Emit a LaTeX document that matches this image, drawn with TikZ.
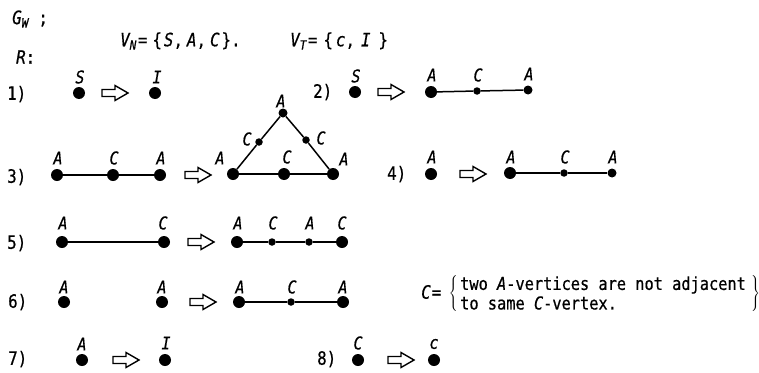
\documentclass[tikz,border=0pt]{standalone}
\usepackage{fontspec}
\setmainfont[FakeStretch=0.86,FakeBold=0.6]{DejaVu Sans Mono}
\usepackage{amsmath}
\newcommand\myleftbr{\ensuremath{\left\{\vrule height 16pt depth 16pt width 0pt\right.}}
\newcommand\myrightbr{\ensuremath{\boldsymbol{\left.\vrule height 16pt depth 16pt width 0pt\right\}}}}
\begin{document}
\begin{tikzpicture}[x=1pt,y=-1pt,
  txt/.style={inner sep=0pt, font=\fontsize{18.4}{20}\selectfont},
  ctxt/.style={inner sep=0pt, font=\fontsize{17.8}{20}\selectfont},
  lab/.style={inner sep=0pt, font=\fontsize{17.5}{20}\selectfont\itshape},
  bigdot/.style={circle, fill, inner sep=0pt, minimum size=12pt},
  meddot/.style={circle, fill, inner sep=0pt, minimum size=9pt},
  smalldot/.style={circle, fill, inner sep=0pt, minimum size=7.5pt},
  edge/.style={line width=1.5pt},
  harrow/.pic={\draw[line width=1.4pt, line join=miter] (0,-3.5)--(13,-3.5)--(13,-7.5)--(26,0)--(13,7.5)--(13,3.5)--(0,3.5)--cycle;}
]
\useasboundingbox (0,0) rectangle (759,372);

% header
\node[txt, anchor=west] (gw) at (12,19) {{\itshape G}\textsubscript{\itshape W} ;};
\node[txt, anchor=west] (vn) at (120,41) {{\itshape V}\textsubscript{\itshape N}\hspace{1pt}=\hspace{5pt}\{\hspace{2pt}{\itshape S},\hspace{4pt}{\itshape A},\hspace{4pt}{\itshape C}\hspace{2pt}\}.};
\node[txt, anchor=west] (vt) at (290,41) {{\itshape V}\textsubscript{\itshape T}\hspace{1pt}=\hspace{6pt}\{\hspace{3pt}{\itshape c},\hspace{6pt}{\itshape I}\hspace{8pt}\}};
\node[txt, anchor=west] (rr) at (16,57) {{\itshape R}:};

% rule 1
\node[txt, anchor=west] (n1) at (7,94) {1)};
\node[bigdot] (r1s) at (79,93) {};
\node[lab] (l1s) at (80,77) {S};
\pic at (102,93) {harrow};
\node[bigdot] (r1i) at (155,93) {};
\node[lab] (l1i) at (157,77) {I};

% rule 2
\node[txt, anchor=west] (n2) at (313,92) {2)};
\node[bigdot] (r2s) at (355,92) {};
\node[lab] (l2s) at (356,76) {S};
\pic at (378,92) {harrow};
\node[bigdot] (r2a1) at (431,92) {};
\node[smalldot] (r2c) at (477,91) {};
\node[meddot] (r2a2) at (528,90) {};
\node[lab] (l2a1) at (432,75) {A};
\node[lab] (l2c) at (478,75) {C};
\node[lab] (l2a2) at (529,74) {A};
\draw[edge] (r2a1) -- (r2c) -- (r2a2);

% rule 3
\node[txt, anchor=west] (n3) at (7,177) {3)};
\node[bigdot] (r3a1) at (57,175) {};
\node[bigdot] (r3c) at (113,175) {};
\node[bigdot] (r3a2) at (160,175) {};
\node[lab] (l3a1) at (58,158) {A};
\node[lab] (l3c) at (114,158) {C};
\node[lab] (l3a2) at (161,158) {A};
\draw[edge] (r3a1) -- (r3c) -- (r3a2);
\pic at (185,175) {harrow};
\node[bigdot] (ta) at (233,174) {};
\node[bigdot] (tc) at (284,174) {};
\node[bigdot] (tb) at (333,174) {};
\node[meddot] (tt) at (283,113) {};
\node[smalldot] (tl) at (259,142) {};
\node[smalldot] (tr) at (306,140) {};
\node[lab] (lta) at (220,158) {A};
\node[lab] (ltc) at (287,157) {C};
\node[lab] (ltb) at (344,159) {A};
\node[lab] (ltl) at (247,139) {C};
\node[lab] (ltr) at (321,138) {C};
\node[lab] (ltt) at (281,101) {A};
\draw[edge] (ta) -- (tc) -- (tb);
\draw[edge] (ta) -- (tl) -- (tt) -- (tr) -- (tb);

% rule 4
\node[txt, anchor=west] (n4) at (387,174) {4)};
\node[bigdot] (r4a) at (431,174) {};
\node[lab] (l4a) at (432,157) {A};
\pic at (460,174) {harrow};
\node[bigdot] (r4a1) at (510,173) {};
\node[smalldot] (r4c) at (564,173) {};
\node[meddot] (r4a2) at (612,173) {};
\node[lab] (l4a1) at (511,157) {A};
\node[lab] (l4c) at (565,157) {C};
\node[lab] (l4a2) at (613,157) {A};
\draw[edge] (r4a1) -- (r4c) -- (r4a2);

% rule 5
\node[txt, anchor=west] (n5) at (7,243) {5)};
\node[bigdot] (r5a) at (62,242) {};
\node[bigdot] (r5c) at (164,242) {};
\node[lab] (l5a) at (63,223) {A};
\node[lab] (l5c) at (163,223) {C};
\draw[edge] (r5a) -- (r5c);
\pic at (188,242) {harrow};
\node[bigdot] (r5a1) at (237,242) {};
\node[smalldot] (r5c1) at (272,242) {};
\node[smalldot] (r5a2) at (309,242) {};
\node[bigdot] (r5c2) at (342,242) {};
\node[lab] (l5a1) at (238,223) {A};
\node[lab] (l5c1) at (273,223) {C};
\node[lab] (l5a2) at (310,223) {A};
\node[lab] (l5c2) at (342,223) {C};
\draw[edge] (r5a1) -- (r5c1) -- (r5a2) -- (r5c2);

% rule 6
\node[txt, anchor=west] (n6) at (8,302) {6)};
\node[bigdot] (r6a) at (64,302) {};
\node[bigdot] (r6b) at (162,302) {};
\node[lab] (l6a) at (64,287) {A};
\node[lab] (l6b) at (162,287) {A};
\pic at (190,302) {harrow};
\node[bigdot] (r6a1) at (239,302) {};
\node[smalldot] (r6c) at (291,302) {};
\node[bigdot] (r6a2) at (343,302) {};
\node[lab] (l6a1) at (240,287) {A};
\node[lab] (l6c) at (292,287) {C};
\node[lab] (l6a2) at (343,287) {A};
\draw[edge] (r6a1) -- (r6c) -- (r6a2);
\node[txt, anchor=west] (ceq) at (421,292) {{\itshape C}\hspace{1pt}=};
\node[inner sep=0pt] (lbr) at (454,294) {\myleftbr};
\node[ctxt, anchor=west] (c1) at (460,285) {two {\itshape A}-vertices are not adjacent};
\node[ctxt, anchor=west] (c2) at (460,303) {to same {\itshape C}-vertex.};
\node[inner sep=0pt] (rbr) at (755,294) {\myrightbr};

% rule 7
\node[txt, anchor=west] (n7) at (8,359) {7)};
\node[bigdot] (r7a) at (82,360) {};
\node[lab] (l7a) at (82,344) {A};
\pic at (113,360) {harrow};
\node[bigdot] (r7i) at (165,360) {};
\node[lab] (l7i) at (166,343) {I};

% rule 8
\node[txt, anchor=west] (n8) at (317,359) {8)};
\node[bigdot] (r8c) at (358,360) {};
\node[lab] (l8c) at (358,343) {C};
\pic at (388,360) {harrow};
\node[bigdot] (r8cc) at (434,360) {};
\node[lab] (l8cc) at (434,344) {c};
\end{tikzpicture}
\end{document}
